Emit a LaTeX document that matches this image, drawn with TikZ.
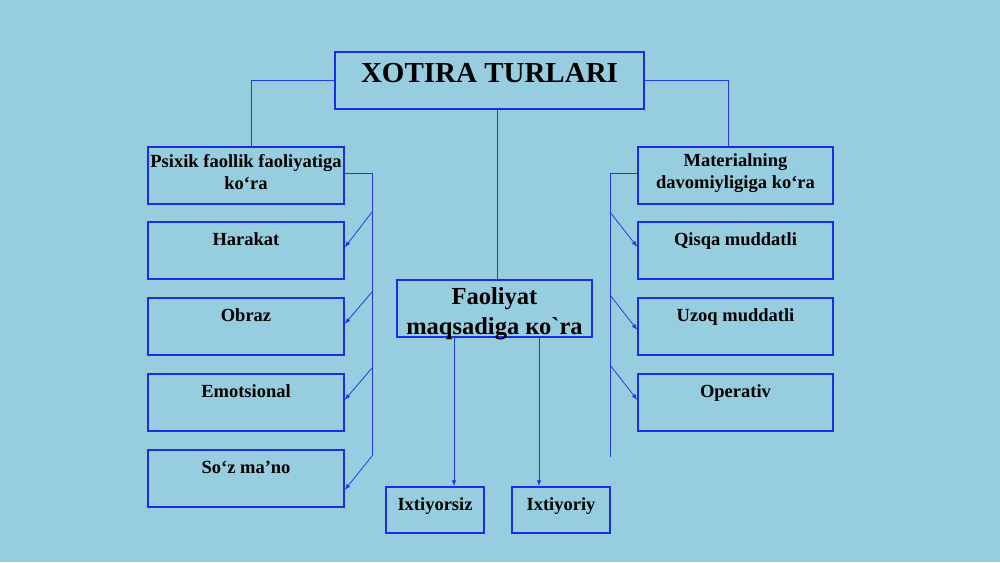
\documentclass[tikz,border=0pt]{standalone}
\usepackage{fontspec}
\setmainfont{Liberation Serif}
\newfontfamily\rawserif{Liberation Serif}
\usetikzlibrary{arrows.meta}
\definecolor{bg}{RGB}{150,205,223}
\definecolor{boxblue}{RGB}{25,45,230}
\definecolor{lineblue}{RGB}{35,60,225}
\newcommand{\twolines}[2]{\begin{tabular}[t]{@{}c@{}}#1\\#2\end{tabular}}
\begin{document}
\begin{tikzpicture}[x=1pt,y=-1pt,
  box/.style={draw=boxblue, line width=1.4pt, minimum width=196pt, minimum height=57pt,
    inner sep=0pt, font=\fontsize{18.5}{22}\selectfont\bfseries},
  topbox/.style={box, text height=23pt, text depth=34pt},
  twobox/.style={box, text height=20pt, text depth=37pt},
  smallbox/.style={box, minimum width=98pt, minimum height=46pt, text height=23pt, text depth=23pt},
  titlebox/.style={box, line width=2.4pt, minimum width=309pt, font=\fontsize{29}{34}\selectfont\bfseries,
    text height=30pt, text depth=27pt},
  conn/.style={draw=lineblue, line width=0.8pt},
  arr/.style={conn, -{Latex[length=6pt,width=4.5pt]}}
]
\fill[bg] (0,0) rectangle (1000,562);
\useasboundingbox (0,0) rectangle (1000,562);

\node[titlebox] (title) at (489.5,80.5) {XOTIRA TURLARI};

\node[twobox] (psix) at (246,175.5) {\twolines{Psixik faollik faoliyatiga}{ko‘ra}};
\node[topbox] (har) at (246,250.5) {Harakat};
\node[topbox] (obr) at (246,326.5) {Obraz};
\node[topbox] (emo) at (246,402.5) {Emotsional};
\node[topbox] (soz) at (246,478.5) {So‘z ma’no};

\node[twobox, minimum width=195pt, text height=19.5pt, text depth=37.5pt] (mat) at (735.5,175.5) {\twolines{Materialning}{davomiyligiga ko‘ra}};
\node[topbox, minimum width=195pt] (qis) at (735.5,250.5) {Qisqa muddatli};
\node[topbox, minimum width=195pt] (uzo) at (735.5,326.5) {Uzoq muddatli};
\node[topbox, minimum width=195pt] (ope) at (735.5,402.5) {Operativ};

\node[box, minimum width=195pt, font=\fontsize{24.5}{30}\selectfont\bfseries,
  text height=24pt, text depth=33pt] (fao) at (494.5,308.5) {\twolines{Faoliyat}{maqsadiga ко{\rawserif\bfseries\char"60}ra}};

\node[smallbox] (ixs) at (435,510) {Ixtiyorsiz};
\node[smallbox] (ixr) at (561,510) {Ixtiyoriy};

% title connectors
\draw[conn] (title.west) -| ([xshift=5pt]psix.north);
\draw[conn] (title.east) -| ([xshift=-7.5pt]mat.north);
\draw[conn] ([xshift=2.5pt]fao.north) -- ([xshift=2.5pt]fao.north |- title.south);

% left bracket
\coordinate (lt) at (372,173);
\coordinate (lb) at (372,456);
\coordinate (l1) at (372,212);
\coordinate (l2) at (372,292);
\coordinate (l3) at (372,368);
\draw[conn] (psix.east |- lt) -- (lt) -- (lb);
\draw[arr] (l1) -- ([yshift=3pt]har.east);
\draw[arr] (l2) -- ([yshift=2.5pt]obr.east);
\draw[arr] (l3) -- ([yshift=2.5pt]emo.east);
\draw[arr] (lb) -- ([yshift=-11.5pt]soz.east);

% right bracket
\coordinate (rt) at (610,173);
\coordinate (rb) at (610,457);
\coordinate (r1) at (610,212);
\coordinate (r2) at (610,295);
\coordinate (r3) at (610,365);
\draw[conn] (mat.west |- rt) -- (rt) -- (rb);
\draw[arr] (r1) -- ([yshift=3.5pt]qis.west);
\draw[arr] (r2) -- ([yshift=-3.5pt]uzo.west);
\draw[arr] (r3) -- ([yshift=2.5pt]ope.west);

% Faoliyat arrows
\draw[arr] ([xshift=19pt]ixs.north |- fao.south) -- ([xshift=19pt]ixs.north);
\draw[arr] ([xshift=-22pt]ixr.north |- fao.south) -- ([xshift=-22pt]ixr.north);
\end{tikzpicture}
\end{document}
